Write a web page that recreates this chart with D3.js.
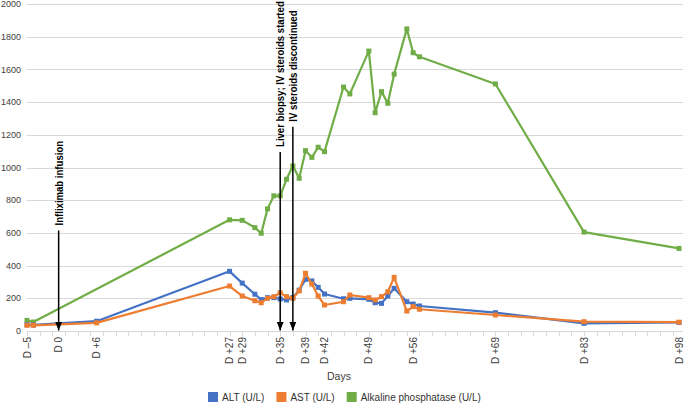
<!DOCTYPE html>
<html>
<head>
<meta charset="utf-8">
<script src="https://cdn.jsdelivr.net/npm/d3@7"></script>
<style>
  html, body { margin: 0; padding: 0; background: #fff; }
  svg { display: block; font-family: "Liberation Sans", Arial, Helvetica, sans-serif; }
</style>
</head>
<body>
<svg id="chart" width="685" height="405"></svg>
<script>
// ---- Data ----
const labDays = [-5, -4, 6, 27, 29, 31, 32, 33, 34, 35, 36, 37, 38, 39, 40, 41, 42, 45, 46, 49, 50, 51, 52, 53, 55, 56, 57, 69, 83, 98];
const altValues = [38, 37, 60, 365, 293, 225, 192, 204, 204, 196, 190, 205, 250, 316, 306, 267, 226, 197, 200, 194, 173, 169, 214, 261, 179, 165, 153, 112, 47, 52];
const astValues = [35, 35, 50, 275, 214, 185, 173, 200, 210, 234, 210, 200, 245, 353, 287, 214, 159, 179, 220, 204, 190, 210, 240, 328, 122, 149, 133, 98, 57, 54];
const alpDays = [-5, -4, 27, 29, 31, 32, 33, 34, 35, 36, 37, 38, 39, 40, 41, 42, 45, 46, 49, 50, 51, 52, 53, 55, 56, 57, 69, 83, 98];
const alpValues = [65, 55, 680, 677, 632, 598, 747, 827, 827, 928, 1009, 934, 1103, 1062, 1124, 1097, 1492, 1450, 1712, 1335, 1464, 1393, 1571, 1848, 1702, 1677, 1511, 605, 505];

const xTickDays = [-5, 0, 6, 27, 29, 35, 39, 42, 49, 56, 69, 83, 98];
const xTickLabels = ["D \u20135", "D 0", "D +6", "D +27", "D +29", "D +35", "D +39", "D +42", "D +49", "D +56", "D +69", "D +83", "D +98"];
const yTicks = [0, 200, 400, 600, 800, 1000, 1200, 1400, 1600, 1800, 2000];

const annotationDays = [0, 35, 37];
const annotationTexts = ["Infliximab infusion", "Liver biopsy; IV steroids started", "IV steroids discontinued"];
const annotationTopValues = [615, 1095, 1250];

const seriesNames = ["ALT (U/L)", "AST (U/L)", "Alkaline phosphatase (U/L)"];
const seriesColors = ["#4472C4", "#ED7D31", "#70AD47"];

// ---- Layout ----
const svg = d3.select("#chart");
const x = d3.scaleLinear().domain([-5, 98]).range([27, 679]);
const y = d3.scaleLinear().domain([0, 2000]).range([331, 4]);

// gridlines
svg.append("g").selectAll("line").data(yTicks.filter(d => d > 0)).join("line")
  .attr("x1", 27).attr("x2", 683)
  .attr("y1", d => Math.round(y(d)) + 0.5).attr("y2", d => Math.round(y(d)) + 0.5)
  .attr("stroke", "#d9d9d9").attr("stroke-width", 1);

// y labels
svg.append("g").selectAll("text").data(yTicks).join("text")
  .attr("x", 21).attr("y", d => y(d)).attr("dy", "0.35em")
  .attr("text-anchor", "end").attr("font-size", 9).attr("fill", "#404040")
  .text(d => d);

// x axis line
svg.append("line").attr("x1", 27).attr("x2", 683)
  .attr("y1", Math.round(y(0)) + 0.5).attr("y2", Math.round(y(0)) + 0.5)
  .attr("stroke", "#d9d9d9").attr("stroke-width", 1);

// minor ticks every 2 days
const minorTicks = d3.range(-5, 99, 2);
svg.append("g").selectAll("line").data(minorTicks).join("line")
  .attr("x1", d => Math.round(x(d)) + 0.5).attr("x2", d => Math.round(x(d)) + 0.5)
  .attr("y1", Math.round(y(0))).attr("y2", Math.round(y(0)) + 5)
  .attr("stroke", "#d9d9d9").attr("stroke-width", 1);

// x tick labels (rotated)
svg.append("g").selectAll("text").data(xTickDays).join("text")
  .attr("transform", (d) => `translate(${x(d)},337) rotate(-90)`)
  .attr("dy", "0.35em")
  .attr("text-anchor", "end").attr("font-size", 10).attr("fill", "#404040")
  .text((d, i) => xTickLabels[i]);

// axis title
svg.append("text").attr("x", 339).attr("y", 380)
  .attr("text-anchor", "middle").attr("font-size", 10.5).attr("fill", "#404040")
  .text("Days");

// ---- Series ----
const line = d3.line().x(d => x(d[0])).y(d => y(d[1]));
const seriesData = [
  d3.zip(labDays, altValues),
  d3.zip(labDays, astValues),
  d3.zip(alpDays, alpValues)
];
const drawOrder = [2, 0, 1];
drawOrder.forEach(i => {
  const g = svg.append("g");
  g.append("path").datum(seriesData[i])
    .attr("d", line).attr("fill", "none")
    .attr("stroke", seriesColors[i]).attr("stroke-width", 2.2)
    .attr("stroke-linejoin", "round");
  g.selectAll("rect").data(seriesData[i]).join("rect")
    .attr("x", d => x(d[0]) - 2.5).attr("y", d => y(d[1]) - 2.5)
    .attr("width", 5).attr("height", 5)
    .attr("fill", seriesColors[i]);
});

// ---- Annotations ----
const defs = svg.append("defs");
defs.append("marker").attr("id", "arrow")
  .attr("viewBox", "0 0 10 10").attr("refX", 10).attr("refY", 5)
  .attr("markerWidth", 6).attr("markerHeight", 6).attr("orient", "auto")
  .append("path").attr("d", "M0,1 L10,5 L0,9 Z").attr("fill", "#000");

// narrow-looking bold text: measure the longest label and condense all uniformly
const annTexts = [];
annotationDays.forEach((d, i) => {
  const ax = x(d);
  const top = y(annotationTopValues[i]);
  svg.append("line")
    .attr("x1", ax).attr("x2", ax)
    .attr("y1", top).attr("y2", y(0) - 0.5)
    .attr("stroke", "#000").attr("stroke-width", 1.5)
    .attr("marker-end", "url(#arrow)");
  const t = svg.append("text")
    .attr("dy", "0.35em")
    .attr("text-anchor", "start")
    .attr("font-weight", "bold").attr("font-size", 11).attr("fill", "#000")
    .text(annotationTexts[i]);
  annTexts.push({ t, ax, top });
});
const longest = d3.max(annTexts, a => a.t.node().getComputedTextLength());
const condense = Math.min(1, 146 / longest);
annTexts.forEach(a => {
  a.t.attr("transform", `translate(${a.ax},${a.top - 5}) rotate(-90) scale(${condense},1)`);
});

// ---- Legend ----
const legend = svg.append("g");
let lx = 208;
seriesNames.forEach((name, i) => {
  legend.append("rect").attr("x", lx).attr("y", 392).attr("width", 10).attr("height", 10)
    .attr("fill", seriesColors[i]);
  const t = legend.append("text").attr("x", lx + 14).attr("y", 397).attr("dy", "0.35em")
    .attr("font-size", 10).attr("fill", "#333").text(name);
  lx += 14 + t.node().getComputedTextLength() + 12;
});
</script>
</body>
</html>
